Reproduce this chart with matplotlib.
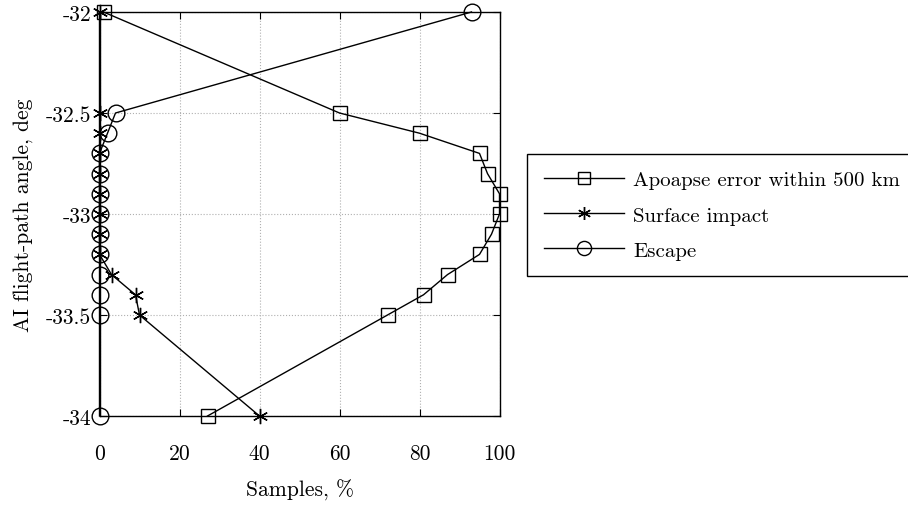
import matplotlib
matplotlib.use("Agg")
import matplotlib.pyplot as plt

plt.rcParams["font.family"] = "serif"
plt.rcParams["font.serif"] = ["cmr10", "DejaVu Serif"]
plt.rcParams["mathtext.fontset"] = "cm"

# flight-path angle levels, deg
angle = [-32, -32.5, -32.6, -32.7, -32.8, -32.9, -33.0, -33.1, -33.2, -33.3, -33.4, -33.5, -34]
# share of samples, %
apoapse = [1, 60, 80, 95, 97, 100, 100, 98, 95, 87, 81, 72, 27]
impact = [0, 0, 0, 0, 0, 0, 0, 0, 0, 3, 9, 10, 40]
escape = [93, 4, 2, 0, 0, 0, 0, 0, 0, 0, 0, 0, 0]

labels = ["Apoapse error within 500 km", "Surface impact", "Escape"]
xticks = [0, 20, 40, 60, 80, 100]
yticks = [-32, -32.5, -33, -33.5, -34]
yticklabels = ["-32", "-32.5", "-33", "-33.5", "-34"]

fig = plt.figure(figsize=(9.08, 5.06), dpi=100)
ax = fig.add_axes([99.5/908, 89/506, 400/908, 404/506])

asterisk = (6, 2, 0)
ax.plot(apoapse, angle, "k-", marker="s", ms=9.5, mfc="none", mew=1.0, lw=1.0, label=labels[0], clip_on=False)
ax.plot(impact, angle, "k-", marker=asterisk, ms=11, mfc="none", mew=1.0, lw=1.0, label=labels[1], clip_on=False)
ax.plot(escape, angle, "k-", marker="o", ms=12, mfc="none", mew=1.0, lw=1.0, label=labels[2], clip_on=False)

ax.set_xlim(0, 100)
ax.set_ylim(-34, -32)
ax.set_xticks(xticks)
ax.set_xticklabels([str(t) for t in xticks])
ax.set_yticks(yticks)
ax.set_yticklabels(yticklabels)
ax.tick_params(direction="in", top=True, right=True, labelsize=15.5, length=5)
ax.tick_params(axis="x", pad=20)
ax.tick_params(axis="y", pad=6)
ax.grid(True, color="#b0b0b0", linestyle=":", linewidth=0.8)
for s in ax.spines.values():
    s.set_linewidth(1.0)

ax.set_xlabel("Samples, %", fontsize=15.5)
ax.set_ylabel("AI flight-path angle, deg", fontsize=15.5)
ax.xaxis.set_label_coords(0.5, -0.155)
ax.yaxis.set_label_coords(-0.166, 0.5)

leg = fig.legend(loc="upper left", bbox_to_anchor=(527/908, 1 - 155/506), fontsize=15,
                 fancybox=False, edgecolor="k", framealpha=1, borderaxespad=0,
                 handlelength=3.85, handletextpad=0.45, labelspacing=0.8,
                 borderpad=0.8, markerscale=0.85)
leg.get_frame().set_linewidth(1.0)

fig.savefig("out.png", dpi=100)
